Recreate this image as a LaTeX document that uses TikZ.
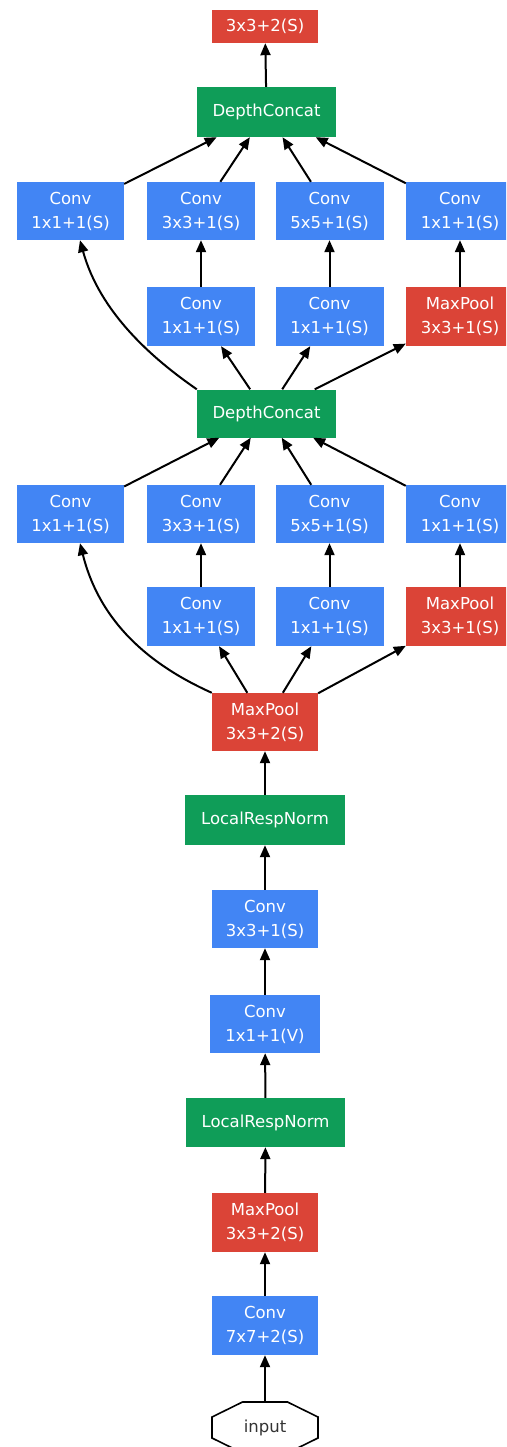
\documentclass[tikz,border=0pt]{standalone}
\usepackage{fontspec}
\setmainfont{DejaVu Sans}
\usetikzlibrary{arrows.meta}
\definecolor{gblue}{HTML}{4285F4}
\definecolor{gred}{HTML}{DB4437}
\definecolor{ggreen}{HTML}{0F9D58}
\tikzset{
  box/.style={rectangle, inner sep=0pt, text=white, align=center,
    font=\fontsize{16.5}{24}\selectfont, minimum height=58pt, minimum width=108pt},
  conv/.style={box, fill=gblue},
  pool/.style={box, fill=gred},
  norm/.style={box, fill=ggreen},
  edge/.style={line width=2pt, -{Triangle[length=12pt,width=10pt]}},
  octline/.style={line width=1.6pt, black}
}
\begin{document}
\begin{tikzpicture}[x=1pt,y=-1pt]
\clip (0,0) rectangle (506,1447);
\fill[white] (0,0) rectangle (506,1447);
% top
\node[pool, minimum height=33pt, minimum width=106pt] (top) at (265,26.5) {3x3+2(S)};
\node[norm, minimum width=139pt, minimum height=50pt] (dc1) at (266.5,112) {DepthConcat};
% row A
\node[conv, minimum width=107pt] (a1) at (70.5,211) {Conv\\1x1+1(S)};
\node[conv] (a2) at (201,211) {Conv\\3x3+1(S)};
\node[conv] (a3) at (329.5,211) {Conv\\5x5+1(S)};
\node[conv] (a4) at (460,211) {Conv\\1x1+1(S)};
% row B
\node[conv, minimum height=59pt] (b2) at (201,316.5) {Conv\\1x1+1(S)};
\node[conv, minimum height=59pt] (b3) at (329.5,316.5) {Conv\\1x1+1(S)};
\node[pool, minimum height=59pt] (b4) at (460,316.5) {MaxPool\\3x3+1(S)};
% dc2
\node[norm, minimum width=139pt, minimum height=48pt] (dc2) at (266.5,413.5) {DepthConcat};
% row C
\node[conv, minimum width=107pt] (c1) at (70.5,514) {Conv\\1x1+1(S)};
\node[conv] (c2) at (201,514) {Conv\\3x3+1(S)};
\node[conv] (c3) at (329.5,514) {Conv\\5x5+1(S)};
\node[conv] (c4) at (460,514) {Conv\\1x1+1(S)};
% row D
\node[conv, minimum height=59pt] (d2) at (201,616.5) {Conv\\1x1+1(S)};
\node[conv, minimum height=59pt] (d3) at (329.5,616.5) {Conv\\1x1+1(S)};
\node[pool, minimum height=59pt] (d4) at (460,616.5) {MaxPool\\3x3+1(S)};
% stem
\node[pool, minimum width=106pt] (mp1) at (265,722) {MaxPool\\3x3+2(S)};
\node[norm, minimum width=160pt, minimum height=50pt] (lrn1) at (265,820) {LocalRespNorm};
\node[conv, minimum width=106pt] (cv3) at (265,919) {Conv\\3x3+1(S)};
\node[conv, minimum width=110pt] (cv1) at (265,1024) {Conv\\1x1+1(V)};
\node[norm, minimum width=159pt, minimum height=49pt] (lrn2) at (265.5,1122.5) {LocalRespNorm};
\node[pool, minimum width=106pt, minimum height=59pt] (mp0) at (265,1222.5) {MaxPool\\3x3+2(S)};
\node[conv, minimum width=106pt, minimum height=59pt] (cv7) at (265,1325.5) {Conv\\7x7+2(S)};
\node[rectangle, inner sep=0pt, minimum width=106pt, minimum height=51pt,
  font=\fontsize{16.5}{24}\selectfont, text=black!80] (in) at (265,1427.5) {input};
\draw[octline] ([shift={(-22.5,-25.5)}]in.center) -- ([shift={(22.5,-25.5)}]in.center)
  -- ([shift={(53,-10.5)}]in.center) -- ([shift={(53,10.5)}]in.center)
  -- ([shift={(22.5,25.5)}]in.center) -- ([shift={(-22.5,25.5)}]in.center)
  -- ([shift={(-53,10.5)}]in.center) -- ([shift={(-53,-10.5)}]in.center) -- cycle;
% edges: stem
\draw[edge] (in) -- (cv7);
\draw[edge] (cv7) -- (mp0);
\draw[edge] (mp0) -- (lrn2);
\draw[edge] (lrn2) -- (cv1);
\draw[edge] (cv1) -- (cv3);
\draw[edge] (cv3) -- (lrn1);
\draw[edge] (lrn1) -- (mp1);
% inception 1
\draw[edge] (mp1.north west) .. controls (150,665) and (100,623) .. ([xshift=9.5pt]c1.south);
\draw[edge] (mp1) -- (d2);
\draw[edge] (mp1) -- (d3);
\draw[edge] (mp1) -- (d4);
\draw[edge] (d2) -- (c2);
\draw[edge] (d3) -- (c3);
\draw[edge] (d4) -- (c4);
\draw[edge] (c1) -- (dc2);
\draw[edge] (c2) -- (dc2);
\draw[edge] (c3) -- (dc2);
\draw[edge] (c4) -- (dc2);
% inception 2
\draw[edge] (dc2.north west) .. controls (153,359) and (100,313) .. ([xshift=9.5pt]a1.south);
\draw[edge] (dc2) -- (b2);
\draw[edge] (dc2) -- (b3);
\draw[edge] (dc2) -- (b4);
\draw[edge] (b2) -- (a2);
\draw[edge] (b3) -- (a3);
\draw[edge] (b4) -- (a4);
\draw[edge] (a1) -- (dc1);
\draw[edge] (a2) -- (dc1);
\draw[edge] (a3) -- (dc1);
\draw[edge] (a4) -- (dc1);
\draw[edge] (dc1) -- (top);
\end{tikzpicture}
\end{document}
